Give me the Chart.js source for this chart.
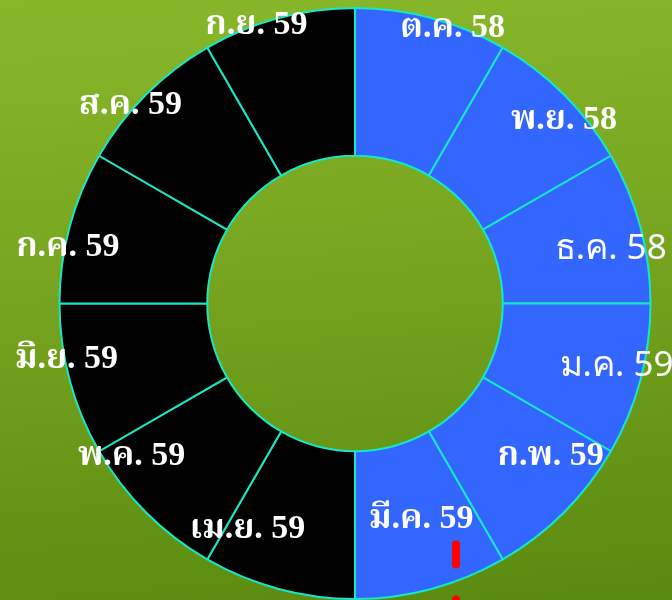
<!DOCTYPE html>
<html>
<head>
<meta charset="utf-8">
<script src="https://cdn.jsdelivr.net/npm/chart.js@4"></script>
<style>
  html, body { margin: 0; padding: 0; }
  body {
    width: 672px; height: 600px; overflow: hidden;
    background: linear-gradient(175deg, #88b82a 0%, #74a21e 50%, #598a10 100%);
  }
  #wrap { width: 672px; height: 600px; }
</style>
</head>
<body>
<div id="wrap"><canvas id="chartCanvas"></canvas></div>
<script>
// --- data ---
const months = ["ต.ค. 58", "พ.ย. 58", "ธ.ค. 58", "ม.ค. 59", "ก.พ. 59", "มี.ค. 59",
                "เม.ย. 59", "พ.ค. 59", "มิ.ย. 59", "ก.ค. 59", "ส.ค. 59", "ก.ย. 59"];
const share = [1, 1, 1, 1, 1, 1, 1, 1, 1, 1, 1, 1];

// --- styles ---
const segColors = months.map((m, i) => i < 6 ? "#3366ff" : "#000000");
// labels were placed by hand in the source, so nudge each one a bit
const labelAngle = [4.5, 3.8, 2.9, -1.5, -7, -2, 10.5, 10.7, 4, -4, -3.5, -4.5];
const labelRadius = [0.99, 0.94, 0.885, 0.91, 0.84, 0.765, 0.845, 0.915, 0.995, 0.99, 1.015, 1.0];
const sansLabels = [2, 3];

const monthLabels = {
  id: "monthLabels",
  afterDatasetsDraw(chart) {
    const ctx = chart.ctx;
    const arcs = chart.getDatasetMeta(0).data;
    ctx.save();
    ctx.fillStyle = "#ffffff";
    ctx.textAlign = "center";
    ctx.textBaseline = "middle";
    arcs.forEach((arc, i) => {
      const { x, y, startAngle, endAngle, outerRadius } =
        arc.getProps(["x", "y", "startAngle", "endAngle", "outerRadius"], true);
      const mid = (startAngle + endAngle) / 2 + labelAngle[i] * Math.PI / 180;
      const r = outerRadius * labelRadius[i];
      ctx.font = sansLabels.includes(i)
        ? "35px 'Noto Sans', 'DejaVu Sans', sans-serif"
        : "bold 34px 'Liberation Serif', 'Noto Serif Thai', 'DejaVu Serif', serif";
      ctx.fillText(months[i], x + Math.cos(mid) * r, y + Math.sin(mid) * r);
    });
    // red dashed marker under มี.ค.
    const a = arcs[0];
    ctx.strokeStyle = "#ff0000";
    ctx.lineWidth = 8;
    ctx.lineCap = "round";
    ctx.setLineDash([20, 35]);
    ctx.beginPath();
    ctx.moveTo(a.x + 101, a.y + 241);
    ctx.lineTo(a.x + 101, a.y + 320);
    ctx.stroke();
    ctx.restore();
  }
};

new Chart(document.getElementById("chartCanvas"), {
  type: "doughnut",
  data: {
    labels: months,
    datasets: [{
      data: share,
      backgroundColor: segColors,
      borderColor: "#14e8c8",
      borderWidth: 2,
      borderAlign: "center"
    }]
  },
  options: {
    responsive: true,
    maintainAspectRatio: false,
    animation: false,
    cutout: "50%",
    layout: { padding: { top: 7, bottom: 0, left: 38, right: 0 } },
    plugins: {
      legend: { display: false },
      tooltip: { enabled: false }
    }
  },
  plugins: [monthLabels]
});
</script>
</body>
</html>
